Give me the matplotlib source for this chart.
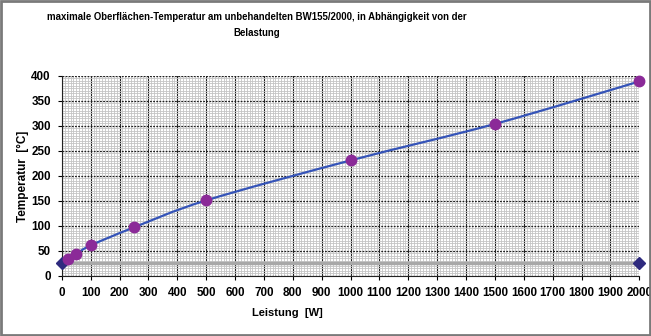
import matplotlib

matplotlib.use("Agg")
import matplotlib.pyplot as plt
import numpy as np
from matplotlib.patches import PathPatch, Rectangle
from matplotlib.path import Path
from matplotlib.ticker import MultipleLocator

plt.rcParams["font.family"] = ["Liberation Sans", "DejaVu Sans"]
plt.rcParams["font.weight"] = "bold"

# Gemessene Oberflächentemperatur über der Leistung
leistung_w = [0, 20, 50, 100, 250, 500, 1000, 1500, 2000]
temperatur_c = [25, 34, 44, 61, 97, 151, 231, 304, 389]

# Umgebungstemperatur als Referenzlinie
umgebung_w = [0, 2000]
umgebung_c = [25, 25]

x_ticks = list(range(0, 2001, 100))
y_ticks = list(range(0, 401, 50))

TITLE = ("maximale Oberflächen-Temperatur am unbehandelten BW155/2000, in Abhängigkeit von der\n"
         "Belastung")


def smooth_path(x, y, tension=1 / 6):
    """Catmull-Rom style Bezier path through the points (like a smoothed Excel line)."""
    pts = np.column_stack([x, y]).astype(float)
    verts = [pts[0]]
    codes = [Path.MOVETO]
    n = len(pts)
    for i in range(n - 1):
        p0 = pts[i - 1] if i > 0 else pts[i]
        p1, p2 = pts[i], pts[i + 1]
        p3 = pts[i + 2] if i + 2 < n else pts[i + 1]
        c1 = p1 + (p2 - p0) * tension
        c2 = p2 - (p3 - p1) * tension
        verts += [c1, c2, p2]
        codes += [Path.CURVE4] * 3
    return Path(verts, codes)


fig = plt.figure(figsize=(6.51, 3.36), dpi=100)
ax = fig.add_axes([0.095, 0.179, 0.887, 0.595])

ax.set_xlim(0, 2000)
ax.set_ylim(0, 400)
ax.set_xticks(x_ticks, [str(t) for t in x_ticks], fontsize=8.4, fontweight="bold")
ax.set_yticks(y_ticks, [str(t) for t in y_ticks], fontsize=8.4, fontweight="bold")
ax.xaxis.set_minor_locator(MultipleLocator(10))
ax.yaxis.set_minor_locator(MultipleLocator(5))

ax.grid(which="minor", color="#c4c4c4", linewidth=0.6)
ax.grid(which="major", axis="x", color="#222222", linewidth=0.8)
ax.grid(which="major", axis="y", color="#222222", linewidth=0.9, linestyle=(0, (1.5, 1)))
ax.set_axisbelow(True)

for side in ("top", "right"):
    ax.spines[side].set_visible(False)
for side in ("left", "bottom"):
    ax.spines[side].set_color("#222222")
    ax.spines[side].set_linewidth(0.8)

ax.tick_params(which="major", direction="out", length=3, width=0.8, pad=5)
ax.tick_params(which="minor", length=0)

# Umgebung
ax.plot(umgebung_w, umgebung_c, color="#a8a8a8", linewidth=2.5, zorder=3, clip_on=False)
ax.plot(umgebung_w, umgebung_c, linestyle="none", marker="D", markersize=6,
        color="#2e2a7e", zorder=5, clip_on=False)

# Messkurve
ax.add_patch(PathPatch(smooth_path(leistung_w, temperatur_c), facecolor="none",
                       edgecolor="#3554b8", linewidth=1.6, zorder=4))
ax.plot(leistung_w[1:], temperatur_c[1:], linestyle="none", marker="o", markersize=7.5,
        color="#8b2a98", zorder=6, clip_on=False)

ax.set_xlabel("Leistung  [W]", fontsize=8, fontweight="bold")
ax.set_ylabel("Temperatur  [°C]", fontsize=8.5, fontweight="bold")
ax.xaxis.set_label_coords((287 - 62) / 577, -0.185)
ax.xaxis.label.set_va("center")
ax.yaxis.set_label_coords(-(62 - 23) / 577, 0.5)
ax.yaxis.label.set_va("center")

fig.text(257 / 651, 0.963, TITLE, ha="center", va="top", fontsize=6.9,
         fontweight="bold", linespacing=1.65)

fig.patches.append(Rectangle((0.002, 0.004), 0.996, 0.992, transform=fig.transFigure,
                             fill=False, edgecolor="#7a7a7a", linewidth=2))

fig.savefig("out.png", dpi=100)
